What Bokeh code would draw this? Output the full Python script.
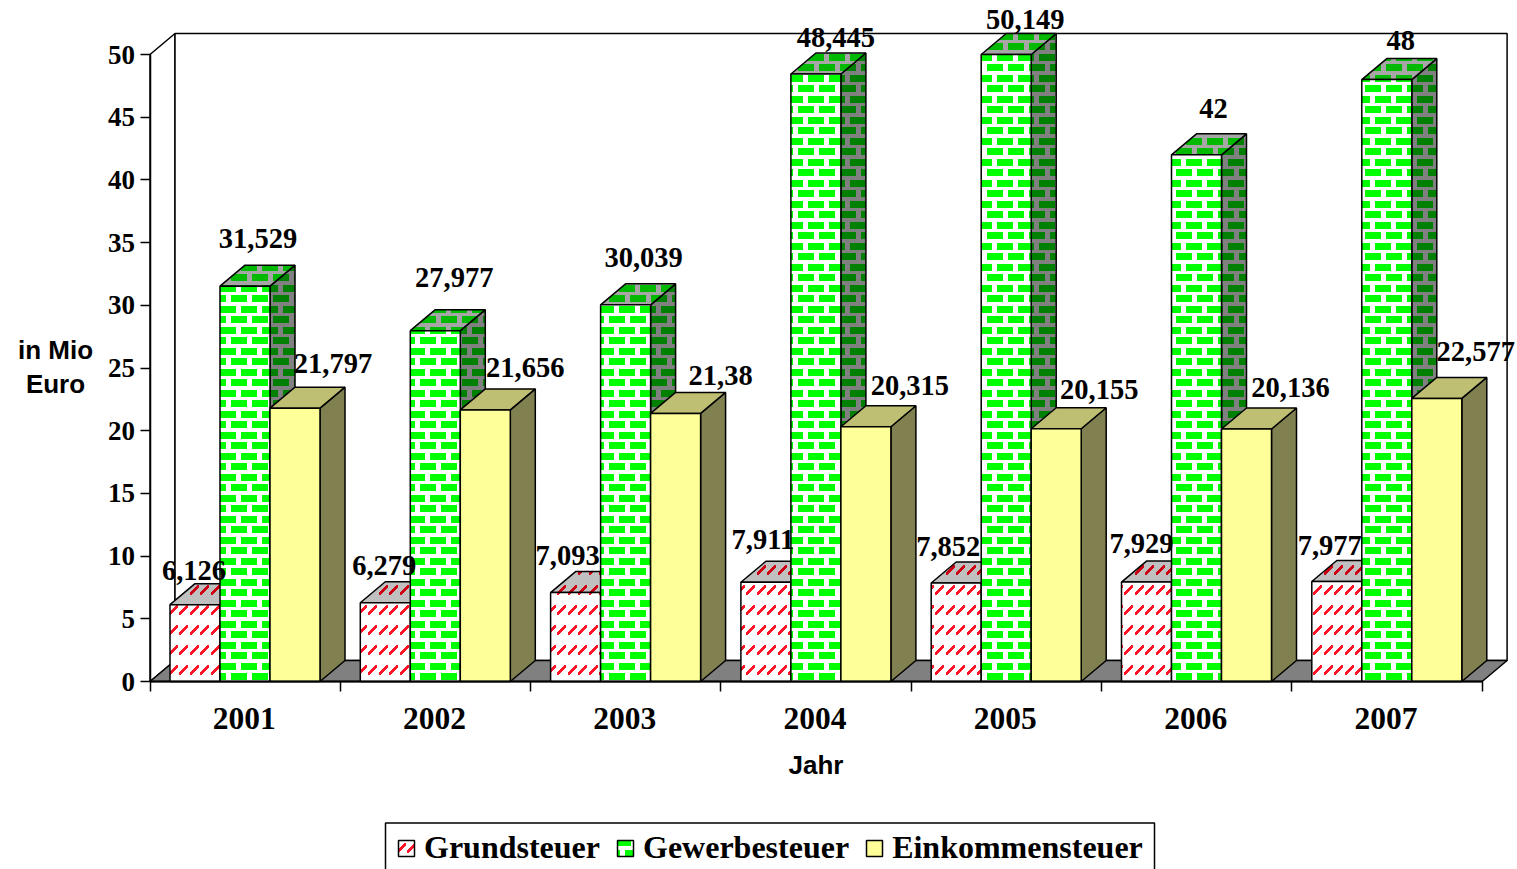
import base64, struct, zlib
import numpy as np
from bokeh.core.properties import value
from bokeh.embed import file_html
from bokeh.models import FixedTicker, ImageURLTexture, Label, Legend, LegendItem, LinearAxis, Range1d
from bokeh.plotting import figure
from bokeh.resources import INLINE

years = ["2001", "2002", "2003", "2004", "2005", "2006", "2007"]
grundsteuer = [6.126, 6.279, 7.093, 7.911, 7.852, 7.929, 7.977]
gewerbesteuer = [31.529, 27.977, 30.039, 48.445, 50.149, 42, 48]
einkommensteuer = [21.797, 21.656, 21.38, 20.315, 20.155, 20.136, 22.577]
y_ticks = [0, 5, 10, 15, 20, 25, 30, 35, 40, 45, 50]

# label displacement from the top centre of each bar, in pixels
grund_off = ([-1, -1, -8, -3, -8, -5, -7], [-34, -37, -37, -43, -37, -39, -36])
gewerbe_off = ([13, 19, 18, 20, 19, 17, 14], [-48, -53, -47, -36, -33, -46, -39])
eink_off = ([38, 40, 45, 44, 43, 44, 39], [-45, -42, -38, -41, -39, -41, -47])

PX_X, PX_Y = 190.3, 12.54
DX, DY = 25 / PX_X, 21 / PX_Y
BAR = 50 / PX_X
START = 20 / PX_X
FRAME_W, FRAME_H = 1517, 869
ZERO_X, ZERO_Y = 149.5, 681


def png_url(arr):
    h, w, _ = arr.shape
    raw = b"".join(b"\x00" + arr[r].tobytes() for r in range(h))
    def chunk(t, d):
        return struct.pack(">I", len(d)) + t + d + struct.pack(">I", zlib.crc32(t + d) & 0xffffffff)
    data = b"\x89PNG\r\n\x1a\n" + chunk(b"IHDR", struct.pack(">IIBBBBB", w, h, 8, 2, 0, 0, 0)) + chunk(b"IDAT", zlib.compress(raw)) + chunk(b"IEND", b"")
    return "data:image/png;base64," + base64.b64encode(data).decode()


def brick_tile(brick, mortar):
    t = np.zeros((21, 21, 3), dtype=np.uint8)
    t[:] = mortar
    t[1:8, 0:16] = brick
    t[12:19, 0:5] = brick
    t[12:19, 10:21] = brick
    return png_url(t)


def dash_tile(dash, ground):
    t = np.zeros((20, 21, 3), dtype=np.uint8)
    t[:] = ground
    for x0 in (1, 11):
        for k in range(8):
            y = 14 - k
            for dx in range(2):
                t[y - 2:y + 1, (x0 + k + dx) % 21] = dash
    return png_url(t)


TEX = {
    "g_front": dash_tile((255, 20, 40), (255, 255, 255)),
    "g_top": dash_tile((205, 0, 20), (192, 192, 192)),
    "b_front": brick_tile((0, 255, 0), (255, 255, 255)),
    "b_side": brick_tile((0, 128, 0), (128, 128, 128)),
    "b_top": brick_tile((0, 185, 0), (166, 166, 166)),
}
EXTRA = {k: ImageURLTexture(url=u) for k, u in TEX.items()}

p = figure(width=FRAME_W, height=FRAME_H, output_backend="svg", toolbar_location=None,
           x_range=Range1d(-ZERO_X / PX_X, (FRAME_W - ZERO_X) / PX_X),
           y_range=Range1d(-(FRAME_H - ZERO_Y) / PX_Y, ZERO_Y / PX_Y),
           frame_width=FRAME_W, frame_height=FRAME_H,
           min_border_left=0, min_border_right=0, min_border_top=0, min_border_bottom=0,
           x_axis_type=None, y_axis_type=None)
p.outline_line_color = None
p.grid.visible = False
p.background_fill_color = "white"

n = len(years)
p.patches([[0, DX, DX, 0]], [[0, DY, 50 + DY, 50]], fill_color="white", line_color="black", line_width=1.5)
p.patches([[DX, n + DX, n + DX, DX]], [[DY, DY, 50 + DY, 50 + DY]], fill_color="white", line_color="black", line_width=1.5)
p.patches([[0, DX, n + DX, n]], [[0, DY, DY, 0]], fill_color="#808080", line_color="black", line_width=1.5)


def bars(vals, slot, front, side, top):
    lefts = [i + START + slot * BAR for i in range(n)]
    rights = [l + BAR for l in lefts]
    tops = [min(v, 50) for v in vals]
    sx = [[r, r + DX, r + DX, r] for r in rights]
    sy = [[0, DY, t + DY, t] for t in tops]
    tx = [[l, l + DX, r + DX, r] for l, r in zip(lefts, rights)]
    ty = [[t, t + DY, t + DY, t] for t in tops]
    common = dict(line_color="black", line_width=1.5)
    for xs, ys, st in ((sx, sy, side), (tx, ty, top)):
        kw = dict(fill_color=st[0])
        if st[1]:
            kw.update(hatch_pattern=value(st[1]), hatch_extra=EXTRA)
        p.patches(xs, ys, **kw, **common)
    kw = dict(fill_color=front[0])
    if front[1]:
        kw.update(hatch_pattern=value(front[1]), hatch_extra=EXTRA)
    r = p.quad(left=lefts, right=rights, bottom=0, top=tops, **kw, **common)
    return r, [l + BAR / 2 for l in lefts]


r1, c1 = bars(grundsteuer, 0, ("white", "g_front"), ("#c0c0c0", None), ("#c0c0c0", "g_top"))
r2, c2 = bars(gewerbesteuer, 1, ("white", "b_front"), ("#808080", "b_side"), ("#a6a6a6", "b_top"))
r3, c3 = bars(einkommensteuer, 2, ("#FFFF99", None), ("#808050", None), ("#BFBF73", None))

for vals, cs, off in ((grundsteuer, c1, grund_off), (gewerbesteuer, c2, gewerbe_off), (einkommensteuer, c3, eink_off)):
    p.text(cs, vals, text=[f"{v:g}".replace(".", ",") for v in vals],
           x_offset=off[0], y_offset=off[1],
           text_font=value("Liberation Serif"), text_font_style="bold", text_font_size="28.5px",
           text_align="center", text_baseline="middle", text_color="black")

label_shift = 1 / PX_X
xa = LinearAxis(ticker=FixedTicker(ticks=[i + 0.5 - label_shift for i in range(n)], minor_ticks=list(range(n + 1))),
                major_label_overrides={i + 0.5 - label_shift: y for i, y in enumerate(years)},
                bounds=(0, n), fixed_location=0, major_tick_in=0, major_tick_out=0,
                minor_tick_in=0, minor_tick_out=10, major_label_standoff=16,
                major_label_text_font="Liberation Serif", major_label_text_font_style="bold",
                major_label_text_font_size="31.5px", major_label_text_color="black",
                axis_line_color="black", axis_line_width=2, minor_tick_line_color="black", minor_tick_line_width=1.5)
p.add_layout(xa, "below")
ya = LinearAxis(ticker=FixedTicker(ticks=y_ticks), bounds=(0, 50), fixed_location=0,
                major_tick_in=0, major_tick_out=10, minor_tick_in=0, minor_tick_out=0,
                major_label_standoff=5,
                major_label_text_font="Liberation Serif", major_label_text_font_style="bold",
                major_label_text_font_size="27px", major_label_text_color="black",
                axis_line_color="black", axis_line_width=1.5, major_tick_line_color="black", major_tick_line_width=1.5)
p.add_layout(ya, "left")

for txt, px, py in (("in Mio", 55, 349), ("Euro", 55, 383), ("Jahr", 815.5, 764)):
    p.add_layout(Label(x=(px - ZERO_X) / PX_X, y=(ZERO_Y - py) / PX_Y, text=txt,
                       text_align="center", text_baseline="middle", text_color="black",
                       text_font="Liberation Sans", text_font_style="bold", text_font_size="26px"))

# legend frame, running off the bottom of the page
p.quad(left=(385 - ZERO_X) / PX_X, right=(1154 - ZERO_X) / PX_X,
       top=(ZERO_Y - 822.5) / PX_Y, bottom=(ZERO_Y - 880) / PX_Y,
       fill_color="white", line_color="black", line_width=1.5)

legend = Legend(items=[LegendItem(label="Grundsteuer", renderers=[r1]),
                       LegendItem(label="Gewerbesteuer", renderers=[r2]),
                       LegendItem(label="Einkommensteuer", renderers=[r3])],
                orientation="horizontal", location=(396, 3), glyph_width=20, glyph_height=20,
                label_standoff=8, spacing=15, padding=10, margin=0,
                label_text_font="Liberation Serif", label_text_font_style="bold", label_text_font_size="32px",
                label_text_line_height=1.0,
                label_text_color="black", border_line_color=None, background_fill_alpha=0)
p.add_layout(legend)

open("out.html", "w").write(file_html(p, INLINE))
